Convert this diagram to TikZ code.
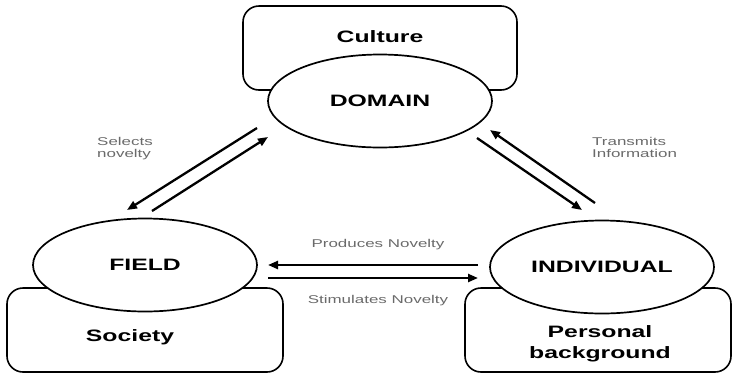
\documentclass[tikz,border=0pt]{standalone}
\usepackage{fontspec}
\setmainfont{Liberation Sans}[FakeStretch=1.5]
\usetikzlibrary{arrows.meta,shapes.geometric}
\definecolor{labelgray}{HTML}{6A6A6A}

\begin{document}
\begin{tikzpicture}[x=1pt,y=-1pt,>={Triangle[length=10pt,width=8pt]},
  sys/.style={draw,line width=1.6pt,rounded corners=16pt,fill=white,inner sep=0pt},
  orb/.style={ellipse,draw,line width=1.7pt,fill=white,inner sep=0pt,
    minimum width=224pt,minimum height=93pt,font=\fontsize{16.5}{18}\selectfont\bfseries},
  big/.style={font=\fontsize{16.5}{21}\selectfont\bfseries,align=center,inner sep=0pt},
  small/.style={font=\fontsize{11.3}{12.5}\selectfont,text=labelgray,inner sep=0pt},
  flow/.style={->,line width=2.3pt}]
  \useasboundingbox (0,0) rectangle (733,373);
  % context boxes behind the three systems
  \node[sys,minimum width=274pt,minimum height=84pt] (cultbox) at (380,48) {};
  \node[sys,minimum width=276pt,minimum height=84pt] (socbox) at (145,330) {};
  \node[sys,minimum width=266pt,minimum height=84pt] (persbox) at (598,330) {};
  \node[big] (culture) at (380,37) {Culture};
  \node[big] (society) at (130,337) {Society};
  \node[big] (personal) at (600,344) {Personal\\background};
  % the three systems
  \node[orb] (domain) at (380,101) {DOMAIN};
  \node[orb] (field) at (145,265) {FIELD};
  \node[orb] (indiv) at (602,267) {INDIVIDUAL};
  % arrow ends
  \coordinate (fd1) at (257,128);  \coordinate (fd2) at (127,210);
  \coordinate (df1) at (152,211);  \coordinate (df2) at (268,137);
  \coordinate (di1) at (477,138);  \coordinate (di2) at (582,210);
  \coordinate (id1) at (595,203);  \coordinate (id2) at (490,130);
  \coordinate (if1) at (478,265);  \coordinate (if2) at (268,265);
  \coordinate (fi1) at (268,278);  \coordinate (fi2) at (478,278);
  \draw[flow] (fd1) -- (fd2);
  \draw[flow] (df1) -- (df2);
  \draw[flow] (di1) -- (di2);
  \draw[flow] (id1) -- (id2);
  \draw[flow] (if1) -- (if2);
  \draw[flow] (fi1) -- (fi2);
  % arrow labels
  \node[small,anchor=north west,align=left] (selects) at (97,137) {Selects\\novelty};
  \node[small,anchor=north west,align=left] (transmits) at (592,137) {Transmits\\Information};
  \node[small] (produces) at (378,245) {Produces Novelty};
  \node[small] (stimulates) at (378,301) {Stimulates Novelty};
\end{tikzpicture}
\end{document}
